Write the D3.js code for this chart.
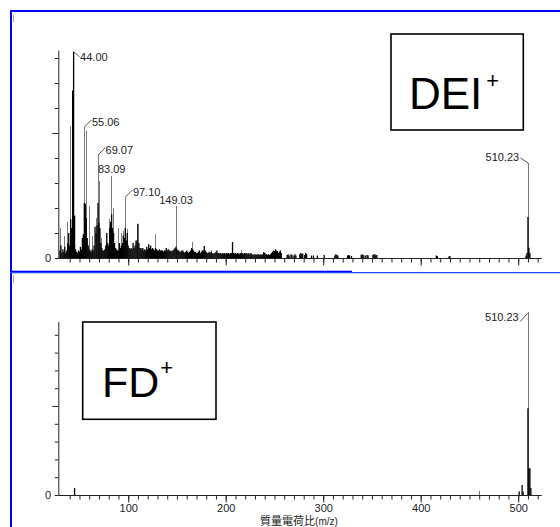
<!DOCTYPE html>
<html>
<head>
<meta charset="utf-8">
<script src="https://cdn.jsdelivr.net/npm/d3@7"></script>
<style>
  body { margin: 0; background: #fff; }
  svg { display: block; font-family: "Liberation Sans", Arial, sans-serif; }
</style>
</head>
<body>
<svg width="560" height="527"></svg>
<script>
// m/z range shown on both panels
const xDomain = [28.3, 524.1];

// DEI+ : black sticks, one per integer m/z starting at deiStart
const deiStart = 30;
const deiDense = [
  0.3, 0.5, 0.2, 0.35, 0.25, 0.45, 0.2, 0.3, 0.6, 1.0,
  0.5, 1.55, 1.2, 6.7, 8.25, 1.7, 0.35, 0.25, 0.2, 0.3,
  0.25, 0.45, 0.35, 0.8, 0.95, 2.2, 2.17, 1.6, 0.8, 0.5,
  0.35, 0.3, 0.25, 0.35, 0.3, 0.5, 1.25, 1.0, 1.3, 2.2,
  1.4, 1.2, 0.6, 0.4, 0.3, 0.3, 0.35, 0.5, 1.0, 0.6,
  0.5, 1.2, 1.45, 1.75, 1.2, 1.0, 0.6, 0.4, 0.35, 0.3,
  0.3, 0.6, 0.4, 0.5, 0.6, 0.9, 0.8, 1.2, 0.7, 1.0,
  0.5, 0.4, 0.35, 0.4, 0.35, 0.6, 0.4, 0.5, 0.7, 0.7,
  1.37, 0.6, 0.4, 0.4, 0.35, 0.4, 0.3, 0.35, 0.3, 0.45,
  0.35, 0.55, 0.4, 0.5, 0.35, 0.4, 0.35, 0.3, 0.4, 0.35,
  0.3, 0.3, 0.35, 0.3, 0.3, 0.3, 0.25, 0.3, 0.3, 0.4,
  0.3, 0.35, 0.3, 0.3, 0.25, 0.3, 0.3, 0.35, 0.4, 0.45,
  0.35, 0.3, 0.3, 0.25, 0.25, 0.3, 0.3, 0.25, 0.2, 0.25,
  0.3, 0.25, 0.2, 0.25, 0.3, 0.4, 0.35, 0.3, 0.25, 0.25,
  0.2, 0.2, 0.25, 0.3, 0.2, 0.25, 0.3, 0.3, 0.48, 0.3,
  0.25, 0.2, 0.2, 0.25, 0.2, 0.25, 0.2, 0.15, 0.2, 0.2,
  0.25, 0.3, 0.2, 0.2, 0.18, 0.2, 0.15, 0.2, 0.18, 0.2,
  0.15, 0.2, 0.18, 0.2, 0.15, 0.2, 0.2, 0.64, 0.2, 0.18,
  0.2, 0.15, 0.2, 0.18, 0.15, 0.2, 0.18, 0.2, 0.15, 0.2,
  0.18, 0.2, 0.15, 0.2, 0.15, 0.18, 0.2, 0.15, 0.12, 0.15,
  0.12, 0.15, 0.12, 0.15, 0.15, 0.12, 0.15, 0.12, 0.15, 0.24,
  0.2, 0.15, 0.15, 0.12, 0.15, 0.12, 0.15, 0.2, 0.25, 0.3,
  0.28, 0.35, 0.3, 0.28, 0.2, 0.25, 0.3, 0.2
];
// DEI+ : scattered black sticks above the dense part
const deiSparse = [
  [263, 0.12], [264, 0.15], [265, 0.1], [267, 0.15], [268, 0.12], [270, 0.1],
  [271, 0.15], [272, 0.1], [276, 0.15], [277, 0.2], [278, 0.15], [279, 0.18],
  [281, 0.12], [282, 0.2], [283, 0.15], [288, 0.1], [290, 0.1], [294, 0.1],
  [301, 0.12], [312, 0.1], [313, 0.15], [314, 0.12], [315, 0.1], [325, 0.1],
  [326, 0.12], [327, 0.1], [329, 0.08], [339, 0.12], [340, 0.15], [341, 0.12],
  [343, 0.1], [345, 0.12], [346, 0.1], [351, 0.12], [352, 0.15], [353, 0.15],
  [354, 0.1], [355, 0.12], [416, 0.1], [417, 0.08], [429, 0.06], [430, 0.08],
  [508, 0.1], [509, 0.2], [510, 1.64], [511, 0.41], [512, 0.2]
];
// DEI+ : thin grey profile lines
const deiTrace = [
  [31, 1.2], [35, 0.9], [38, 1.45], [41, 5.28], [55.06, 5.24], [57, 5.1],
  [60, 2.08], [63, 0.88], [67, 1.6], [69.07, 4.12], [71, 3.08], [73, 0.8],
  [81, 1.55], [83.09, 3.3], [85, 2.0], [90, 1.2], [93, 1.0], [95, 1.1],
  [97.10, 2.44], [99, 1.15], [110, 1.35], [128, 0.95], [149.03, 2.08],
  [166, 0.65], [185, 0.32], [216, 0.32], [510.23, 3.8]
];
const deiLabels = [44.00, 55.06, 69.07, 83.09, 97.10, 149.03, 510.23];

// FD+
const fdSticks = [
  [45, 0.4], [501, 0.19], [504, 0.56], [505, 0.2],
  [510, 4.87], [511, 1.5], [512, 1.5], [513, 0.4]
];
const fdTrace = [[460, 0.2], [510.23, 10.3]];
const fdLabels = [510.23];

const xMinorTicks = d3.range(40, 521, 10);
const xMajorTicks = [100, 200, 300, 400, 500];
const xTitle = "質量電荷比";
const xTitleUnit = "(m/z)";

const svg = d3.select("svg");
const blue = "#0000ff";
const ink = "#222";

const x = d3.scaleLinear().domain(xDomain).range([58.3, 541.7]);
const fmt = d3.format(".2f");

// frame
svg.append("rect").attr("x", 10).attr("y", 10).attr("width", 550).attr("height", 2).attr("fill", blue);
svg.append("rect").attr("x", 10).attr("y", 10).attr("width", 2).attr("height", 517).attr("fill", blue);
svg.append("rect").attr("x", 10).attr("y", 270.7).attr("width", 342).attr("height", 1.5).attr("fill", blue);
svg.append("rect").attr("x", 10).attr("y", 272).attr("width", 550).attr("height", 1.3).attr("fill", "#2448ff");
[[15, 22], [275, 283]].forEach(([a, b]) => {
  svg.append("line").attr("x1", 13.5).attr("x2", 13.5).attr("y1", a).attr("y2", b)
    .attr("stroke", "#aaa").attr("stroke-width", 1);
});

function drawPanel(p) {
  const g = svg.append("g");
  const y = d3.scaleLinear().domain([0, p.yMax]).range([p.zero, p.top]);

  // spectrum: grey profile under, black sticks over
  g.append("g").selectAll("line").data(p.trace).join("line")
    .attr("x1", d => x(d[0])).attr("x2", d => x(d[0]))
    .attr("y1", p.zero).attr("y2", d => y(d[1]))
    .attr("stroke", "#7a7a7a").attr("stroke-width", 1)
    .attr("shape-rendering", "crispEdges");
  g.append("g").selectAll("line").data(p.sticks.filter(d => d[1] > 0)).join("line")
    .attr("x1", d => x(d[0])).attr("x2", d => x(d[0]))
    .attr("y1", p.zero).attr("y2", d => y(d[1]))
    .attr("stroke", "#000").attr("stroke-width", 1.3);

  // y axis
  const yAxis = d3.axisLeft(y).tickValues(p.yTicks).tickSize(0).tickFormat("");
  const ya = g.append("g").attr("transform", `translate(${x(xDomain[0])},0)`).call(yAxis);
  ya.select(".domain").attr("stroke", ink);
  ya.selectAll(".tick line").attr("stroke", ink)
    .attr("x2", d => (d === 5 ? -6 : -3.5));
  g.append("text").attr("x", 51).attr("y", p.zero + 3.8)
    .attr("text-anchor", "end").attr("font-size", 11).attr("fill", ink).text("0");

  // x axis, minor then major ticks
  const xa = g.append("g").attr("transform", `translate(0,${p.zero})`);
  xa.append("g").call(d3.axisBottom(x).tickValues(xMinorTicks).tickSize(4.5).tickFormat(""))
    .call(s => s.select(".domain").attr("stroke", ink).attr("d", `M${x(xDomain[0])},0.5H${x(xDomain[1])}`))
    .call(s => s.selectAll(".tick line").attr("stroke", ink));
  const major = xa.append("g")
    .call(d3.axisBottom(x).tickValues(xMajorTicks).tickSize(7.5)
      .tickFormat(p.showX ? d3.format("d") : ""));
  major.select(".domain").remove();
  major.selectAll(".tick line").attr("stroke", ink);
  major.selectAll(".tick text").attr("font-size", 11).attr("fill", ink)
    .attr("font-family", "Liberation Sans, Arial, sans-serif").attr("dy", "0.55em");

  // peak labels
  const all = p.sticks.concat(p.trace);
  p.labels.forEach(m => {
    const h = d3.max(all.filter(d => Math.abs(d[0] - m) < 0.6), d => d[1]);
    const px = x(m), py = y(h);
    const mode = p.modes[fmt(m)];
    const t = g.append("text").attr("font-size", 11).attr("fill", ink).text(fmt(m));
    const lead = (x1, y1, x2, y2) => g.append("line")
      .attr("x1", x1).attr("y1", y1).attr("x2", x2).attr("y2", y2)
      .attr("stroke", "#555").attr("stroke-width", 1);
    if (mode === "above") {
      t.attr("x", px).attr("y", py - 2.3).attr("text-anchor", "middle");
    } else if (mode === "downRight") {
      lead(px, py, px + 6, py + 5);
      t.attr("x", px + 6.5).attr("y", py + 9.6);
    } else if (mode === "upRight") {
      lead(px, py, px + 7, py - 7);
      t.attr("x", px + 7.5).attr("y", py - 1.5);
    } else if (mode === "upLeft") {
      lead(px, py, px - 7.6, py - 5);
      t.attr("x", px - 9).attr("y", py - 2.3).attr("text-anchor", "end");
    } else if (mode === "downLeft") {
      lead(px - 0.5, py + 1.5, px - 8, py + 10);
      t.attr("x", px - 9.5).attr("y", py + 9.6).attr("text-anchor", "end");
    }
  });

  // ionisation box
  g.append("rect").attr("x", p.box[0]).attr("y", p.box[1])
    .attr("width", p.box[2]).attr("height", p.box[3])
    .attr("fill", "none").attr("stroke", "#000").attr("stroke-width", 1.6);
  const bt = g.append("text").attr("x", p.boxText[0]).attr("y", p.boxText[1])
    .attr("font-size", p.boxText[2]).attr("fill", "#000");
  bt.append("tspan").text(p.name);
  bt.append("tspan").attr("font-size", 22).attr("dx", p.boxText[4]).attr("dy", -p.boxText[3]).text("+");
}

drawPanel({
  zero: 258, top: 50, yMax: 208 / 25, yTicks: d3.range(0, 9),
  sticks: deiDense.map((v, i) => [deiStart + i, v]).concat(deiSparse),
  trace: deiTrace, labels: deiLabels, showX: false,
  modes: { "44.00": "downRight", "55.06": "upRight", "69.07": "upRight", "83.09": "above",
           "97.10": "upRight", "149.03": "above", "510.23": "upLeft" },
  box: [391, 34, 132.3, 96], boxText: [409, 109, 44, 21, 4], name: "DEI"
});

drawPanel({
  zero: 495, top: 321.7, yMax: 173.3 / 17.8, yTicks: d3.range(0, 10),
  sticks: fdSticks, trace: fdTrace, labels: fdLabels, showX: true,
  modes: { "510.23": "downLeft" },
  box: [82.7, 322, 133.3, 97.3], boxText: [102, 396.7, 43, 22, 1], name: "FD"
});

// x axis title
const title = svg.append("text").attr("x", 299).attr("y", 525).attr("text-anchor", "middle")
  .attr("fill", ink);
title.append("tspan").attr("font-family", "Noto Sans CJK JP, sans-serif").attr("font-size", 11).text(xTitle);
title.append("tspan").attr("font-size", 10).text(xTitleUnit);
</script>
</body>
</html>
